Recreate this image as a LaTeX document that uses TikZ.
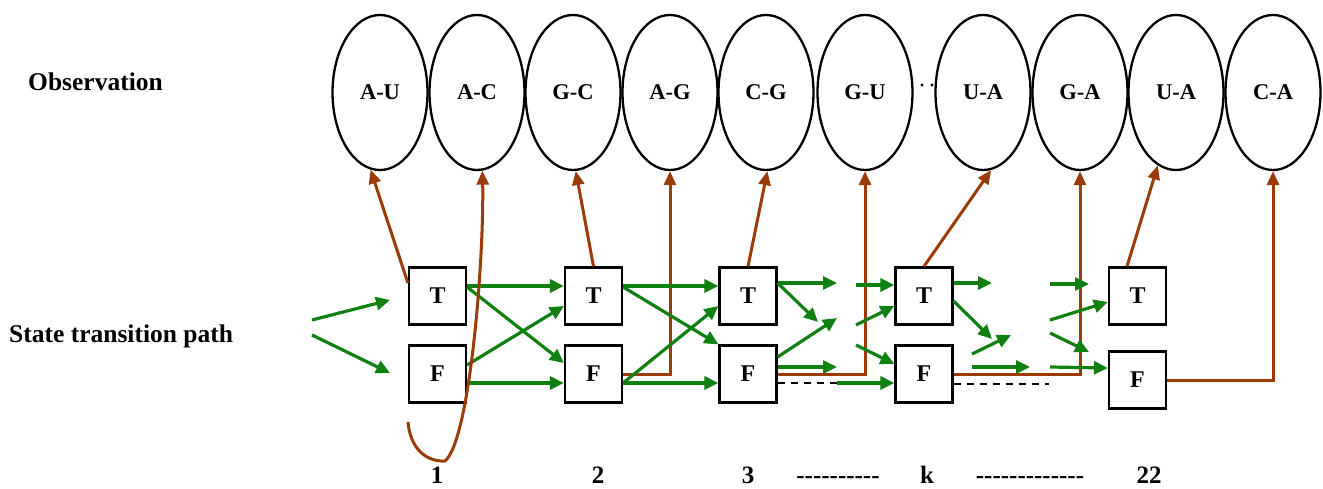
\documentclass[tikz,border=0pt]{standalone}
\usepackage{fontspec}
\setmainfont{Liberation Serif}
\usetikzlibrary{arrows.meta,shapes.geometric,calc}
\definecolor{grn}{RGB}{16,128,16}
\definecolor{brn}{RGB}{155,60,8}
\def\hy{\mbox{-}}
\begin{document}
\begin{tikzpicture}[x=1pt,y=-1pt,
 obs/.style={ellipse,draw,line width=2.3pt,minimum width=95pt,minimum height=155pt,inner sep=0pt,font=\fontsize{22.5}{27}\selectfont\bfseries},
 st/.style={rectangle,draw,fill=white,line width=2.2pt,minimum size=57pt,inner sep=0pt,font=\fontsize{24}{28}\selectfont\bfseries},
 ga/.style={grn,line width=3.2pt,-{Triangle[length=14pt,width=13pt]}},
 ba/.style={brn,line width=3pt,-{Triangle[length=14pt,width=12pt]}},
 dl/.style={black,line width=2pt,dash pattern=on 7pt off 6pt},
 lab/.style={font=\fontsize{25.5}{30}\selectfont\bfseries,inner sep=0pt},
 num/.style={font=\fontsize{25}{30}\selectfont\bfseries,inner sep=0pt,anchor=base}]
\useasboundingbox (0,0) rectangle (1323,489);

% side labels
\node[lab,anchor=base west] (lobs) at (28,91) {Observation};
\node[lab,anchor=base west] (lst) at (9,342) {State transition path};

% observations
\node[obs] (o1) at (380,92.5) {A-U};
\node[obs] (o2) at (477,92.5) {A-C};
\node[obs] (o3) at (573,92.5) {G-C};
\node[obs] (o4) at (670,92.5) {A-G};
\node[obs] (o5) at (766,92.5) {C-G};
\node[obs] (o6) at (865,92.5) {G-U};
\node[obs] (o7) at (983,92.5) {U-A};
\node[obs] (o8) at (1080,92.5) {G-A};
\node[obs] (o9) at (1176,92.5) {U-A};
\node[obs] (o10) at (1273,92.5) {C-A};
\fill (922,85) circle (1.6pt) (932,85) circle (1.6pt);

% coordinates of free ends
\coordinate (in1s) at (312,320); \coordinate (in1e) at (390,300);
\coordinate (in2s) at (312,335); \coordinate (in2e) at (390,373);
\coordinate (p1) at (837,283); \coordinate (p2) at (818,322);
\coordinate (p3) at (837,318); \coordinate (p4) at (837,367);
\coordinate (p5) at (837,383);
\coordinate (q1) at (856,285); \coordinate (q2) at (856,325); \coordinate (q3) at (856,345);
\coordinate (r1) at (992,283); \coordinate (r2) at (992,339);
\coordinate (r3s) at (972,354); \coordinate (r3e) at (1011,335);
\coordinate (r4s) at (972,367); \coordinate (r4e) at (1030,367);
\coordinate (r5) at (1049,384);
\coordinate (u1s) at (1050,284); \coordinate (u1e) at (1089,284);
\coordinate (u2) at (1050,320);
\coordinate (u3s) at (1050,333); \coordinate (u3e) at (1089,352);
\coordinate (u4) at (1050,367);
\coordinate (L0) at (408,422); \coordinate (L1) at (445,461);

% states
\node[st] (T1) at (437.5,296) {T};
\node[st] (F1) at (437.5,374) {F};
\node[st] (T2) at (593.5,296) {T};
\node[st] (F2) at (593.5,374) {F};
\node[st] (T3) at (748,296) {T};
\node[st] (F3) at (748,374) {F};
\node[st] (Tk) at (924,296) {T};
\node[st] (Fk) at (924,374) {F};
\node[st] (T22) at (1137.5,296) {T};
\node[st] (F22) at (1137.5,380) {F};

% emissions
\draw[ba] ([yshift=13pt]T1.west) -- (o1.263);
\draw[ba] (T2.north) -- (o3.272);
\draw[ba] (F2.east) -| (o4.south);
\draw[ba] (T3.north) -- (o5.271);
\draw[ba] (F3.east) -| (o6.south);
\draw[ba] (Tk.north) -- (o7.276);
\draw[ba] (Fk.east) -| (o8.south);
\draw[ba] ([xshift=-10.5pt]T22.north) -- (o9.256);
\draw[ba] (F22.east) -| (o10.south);

% dashed
\draw[dl] ([yshift=-9pt]F3.east) -- (p5);
\draw[dl] ([yshift=-10pt]Fk.east) -- (r5);

% transitions
\draw[ga] (in1s) -- (in1e);
\draw[ga] (in2s) -- (in2e);
\draw[ga] ([yshift=10pt]T1.east) -- ([yshift=10pt]T2.west);
\draw[ga] ([yshift=9pt]T1.east) -- ([yshift=11pt]F2.west);
\draw[ga] ([yshift=9pt]F1.east) -- ([yshift=-10pt]T2.west);
\draw[ga] ([yshift=-9pt]F1.east) -- ([yshift=-9pt]F2.west);
\draw[ga] ([yshift=10pt]T2.east) -- ([yshift=10pt]T3.west);
\draw[ga] ([yshift=9pt]T2.east) -- (F3.north west);
\draw[ga] ([yshift=-9pt]F2.east) -- ([yshift=-10pt]T3.west);
\draw[ga] ([yshift=-9pt]F2.east) -- ([yshift=-9pt]F3.west);
\draw[ga] ([yshift=13pt]T3.east) -- (p1);
\draw[ga] ([yshift=13pt]T3.east) -- (p2);
\draw[ga] ([yshift=17pt]F3.east) -- (p3);
\draw[ga] ([yshift=7pt]F3.east) -- (p4);
\draw[ga] (p5) -- ([yshift=-9pt]Fk.west);
\draw[ga] (q1) -- ([yshift=11pt]Tk.west);
\draw[ga] (q2) -- ([yshift=-10pt]Tk.west);
\draw[ga] (q3) -- ([yshift=10pt]Fk.west);
\draw[ga] ([yshift=13pt]Tk.east) -- (r1);
\draw[ga] ([yshift=-5pt]Tk.east) -- (r2);
\draw[ga] (r3s) -- (r3e);
\draw[ga] (r4s) -- (r4e);
\draw[ga] (u1s) -- (u1e);
\draw[ga] (u2) -- ([yshift=-6pt]T22.west);
\draw[ga] (u3s) -- (u3e);
\draw[ga] (u4) -- ([yshift=12pt]F22.west);

% loop to A-C
\draw[ba] (L0) .. controls (410,447) and (425,462) .. (L1) .. controls (470,440) and (484,260) .. (o2.274);

% bottom labels
\node[num] (n1) at (437,483) {1};
\node[num] (n2) at (598,483) {2};
\node[num] (n3) at (748,483) {3};
\node[num] (d1) at (838,483) {\hy\hy\hy\hy\hy\hy\hy\hy\hy\hy};
\node[num] (nk) at (927,483) {k};
\node[num] (d2) at (1030,483) {\hy\hy\hy\hy\hy\hy\hy\hy\hy\hy\hy\hy\hy};
\node[num] (n22) at (1149,483) {22};
\end{tikzpicture}
\end{document}
